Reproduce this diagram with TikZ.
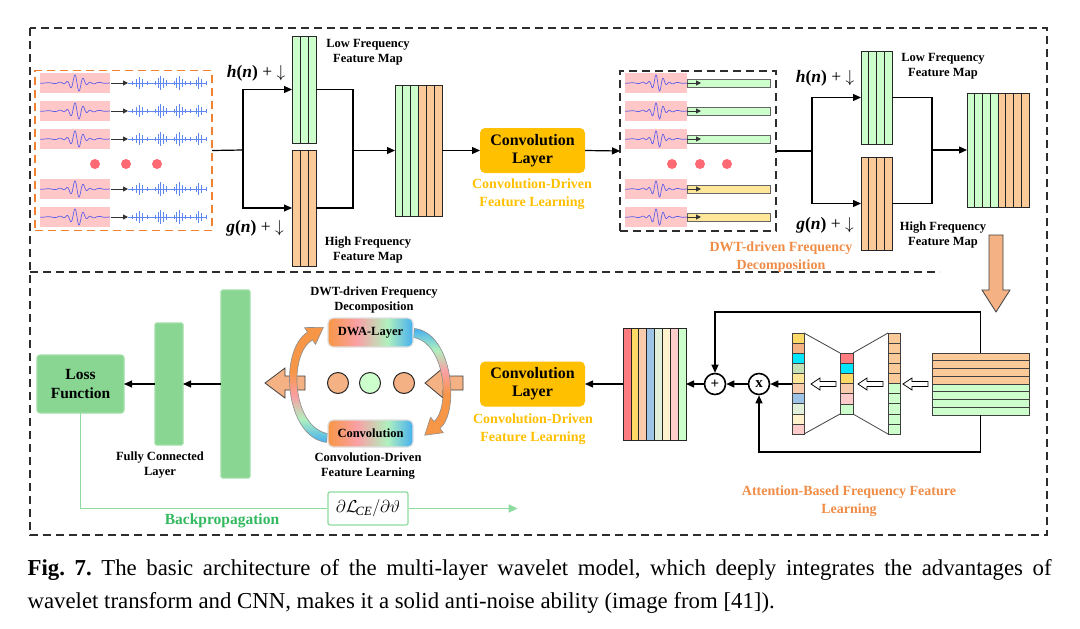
\documentclass[tikz,border=0pt]{standalone}
\usepackage{fontspec}
\setmainfont{Liberation Serif}
\usetikzlibrary{arrows.meta,calc,fit}
\definecolor{lgreen}{RGB}{204,255,204}
\definecolor{lorange}{RGB}{252,201,153}
\definecolor{pinkbg}{RGB}{255,199,199}
\definecolor{wavec}{RGB}{95,95,235}
\definecolor{noisec}{RGB}{95,135,240}
\definecolor{dotred}{RGB}{255,105,115}
\definecolor{convy}{RGB}{255,192,0}
\definecolor{lblorange}{RGB}{240,140,70}
\definecolor{midgreen}{RGB}{136,214,146}
\definecolor{bptext}{RGB}{50,185,95}
\definecolor{bpline}{RGB}{140,220,160}
\definecolor{arrorange}{RGB}{244,177,131}
\definecolor{framec}{RGB}{45,45,45}
\definecolor{boxorange}{RGB}{240,130,50}
\definecolor{ybar}{RGB}{255,230,153}
\definecolor{cyel}{RGB}{255,217,102}
\definecolor{corg}{RGB}{244,177,131}
\definecolor{ccyan}{RGB}{0,230,255}
\definecolor{csage}{RGB}{197,224,180}
\definecolor{cyel2}{RGB}{255,230,153}
\definecolor{cpeach}{RGB}{248,203,173}
\definecolor{cblue}{RGB}{157,195,230}
\definecolor{cpale}{RGB}{226,239,218}
\definecolor{clyel}{RGB}{255,242,204}
\definecolor{cpink}{RGB}{255,204,204}
\definecolor{cred}{RGB}{255,124,128}
\definecolor{so}{RGB}{247,150,70}
\definecolor{sp}{RGB}{250,160,165}
\definecolor{sg}{RGB}{175,240,190}
\definecolor{sb}{RGB}{70,175,240}
\pgfdeclarehorizontalshading{rainbowbox}{100bp}{color(0bp)=(so); color(25bp)=(so); color(42bp)=(sp); color(60bp)=(sg); color(75bp)=(sb); color(100bp)=(sb)}
\pgfdeclareverticalshading{bandup}{100bp}{color(0bp)=(sb); color(25bp)=(sb); color(35bp)=(sg); color(45bp)=(sp); color(56bp)=(so); color(100bp)=(so)}
\pgfdeclareverticalshading{banddown}{100bp}{color(0bp)=(so); color(44bp)=(so); color(55bp)=(sp); color(65bp)=(sg); color(75bp)=(sb); color(100bp)=(sb)}
% vertical striped map: name, x0, y0, x1, y1, n, colours
\newcommand\colmap[7]{%
  \foreach \cc [count=\i from 0] in {#7}
    \draw[fill=\cc, draw=black!85, line width=0.7pt] ({#2+(#4-#2)/#6*\i},#3) rectangle ({#2+(#4-#2)/#6*(\i+1)},#5);
  \node[inner sep=0pt, outer sep=0pt, fit={(#2,#3) (#4,#5)}] (#1) {};
}
% horizontal striped map: name, x0, y0, x1, y1, n, colours
\newcommand\rowmap[7]{%
  \foreach \cc [count=\i from 0] in {#7}
    \draw[fill=\cc, draw=black!75, line width=0.6pt] (#2,{#3+(#5-#3)/#6*\i}) rectangle (#4,{#3+(#5-#3)/#6*(\i+1)});
  \node[inner sep=0pt, outer sep=0pt, fit={(#2,#3) (#4,#5)}] (#1) {};
}
\begin{document}
\begin{tikzpicture}[x=1pt,y=-1pt,
  >={Triangle[length=8pt,width=7pt]},
  line width=1.2pt,
  framedash/.style={draw=framec, line width=1.3pt, dash pattern=on 8pt off 5pt},
  smalllbl/.style={font=\bfseries\fontsize{12.5}{15}\selectfont, align=center, inner sep=0pt},
  ylbl/.style={font=\bfseries\fontsize{14}{18}\selectfont, text=convy, align=center, inner sep=0pt},
  olbl/.style={font=\bfseries\fontsize{14}{18}\selectfont, text=lblorange, align=center, inner sep=0pt},
  convbox/.style={fill=convy, rounded corners=5pt, minimum width=105pt, minimum height=45pt, inner sep=0pt, outer sep=0pt, font=\bfseries\fontsize{16}{18}\selectfont, align=center},
  hlbl/.style={font=\fontsize{17.5}{19}\selectfont, inner sep=0pt},
  smallarr/.style={-{Triangle[length=5pt,width=5pt]}, draw=black!80, line width=1pt},
  reddot/.style={circle, fill=dotred, minimum size=10pt, inner sep=0pt},
  gbar/.style={fill=midgreen, draw=midgreen!80!white, rounded corners=1.5pt, inner sep=0pt, outer sep=0pt},
  ball/.style={circle, draw=black!85, line width=1pt, minimum size=21pt, inner sep=0pt},
  opcirc/.style={circle, draw=black, line width=1.6pt, fill=white, minimum size=21pt, inner sep=0pt, font=\bfseries\fontsize{15}{15}\selectfont},
  blockarr/.style={fill=arrorange, draw=black!75, line width=0.8pt, line join=miter},
  wavepic/.pic={
    \fill[pinkbg] (0,-10) rectangle (70,10);
    \draw[wavec, line width=0.7pt, domain=0:70, samples=140, smooth] plot (\x, {7.5*exp(-(\x-37)*(\x-37)/90)*sin(45*(\x-37)) + 1.1*exp(-(\x-37)*(\x-37)/700)*sin(28*(\x-37))});
  },
  noisepic/.pic={
    \draw[noisec, line width=0.8pt] (0,0) -- (79,0);
    \foreach \a/\h in {4/2,8/4,11/6,14/4,19/2,27/2,30/5,32/7,35/5,38/3,46/2,48/5,51/7,54/4,57/2,62/2,68/3,70/6,73/4,78/2}
      \draw[noisec, line width=1pt] (\a,-\h) -- (\a,\h);
  },
  harr/.pic={
    \draw[fill=white, draw=black, line width=0.8pt] (0,-2.5) -- (-16,-2.5) -- (-16,-6) -- (-25,0) -- (-16,6) -- (-16,2.5) -- (0,2.5) -- cycle;
  }
]
\useasboundingbox (0,0) rectangle (1080,629);
\fill[white] (0,0) rectangle (1080,629);

% ---------- frame ----------
\draw[framedash] (30,28) rectangle (1047,535);
\draw[framedash] (30,272) -- (940,272);

% ---------- top left: input signals ----------
\node[draw=boxorange, line width=1.3pt, dash pattern=on 8pt off 5pt, minimum width=177pt, minimum height=160pt, inner sep=0pt, outer sep=0pt] (sigbox) at (123.5,150.5) {};
\foreach \yy in {83,111,139,189,217}{
  \pic at (40,\yy) {wavepic};
  \draw[smallarr] (111,\yy) -- (128,\yy);
  \pic at (128,\yy) {noisepic};
}
\node[reddot] (d1) at (95,164) {};
\node[reddot] (d2) at (126,164) {};
\node[reddot] (d3) at (157,164) {};

% ---------- first DWT ----------
\colmap{low1}{292}{36}{316}{143}{3}{lgreen,lgreen,lgreen}
\colmap{high1}{292}{150}{316}{266}{3}{lorange,lorange,lorange}
\colmap{cat1}{395}{85}{442}{216}{6}{lgreen,lgreen,lgreen,lorange,lorange,lorange}
\coordinate (sp1) at (243,150);
\coordinate (mg1) at (353,150.5);
\draw (sigbox.east) -- (sp1);
\draw[->] (sp1) |- (low1.west);
\draw[->] (sp1) |- (high1.west);
\draw (low1.east) -| (mg1);
\draw (high1.east) -| (mg1);
\draw[->] (mg1) -- (cat1.west);
\node[hlbl] (hl1) at (256,73) {\textbf{\textit{h}(\textit{n})} + $\downarrow$};
\node[hlbl] (gl1) at (255,228) {\textbf{\textit{g}(\textit{n})} + $\downarrow$};
\node[smalllbl] (lowl1) at (368,52) {Low Frequency\\Feature Map};
\node[smalllbl] (highl1) at (368,250) {High Frequency\\Feature Map};

% ---------- conv layer 1 ----------
\node[convbox] (conv1) at (532.5,150.5) {Convolution\\Layer};
\node[ylbl] (cl1) at (532,194) {Convolution-Driven\\Feature Learning};
\draw[->] (cat1.east) -- (conv1.west);

% ---------- right signal box ----------
\node[draw=framec, line width=1.3pt, dash pattern=on 8pt off 5pt, minimum width=156pt, minimum height=160pt, inner sep=0pt, outer sep=0pt] (rbx) at (698,151) {};
\draw[->] (conv1.east) -- (rbx.west);
\foreach \yy/\bc in {83/lgreen,111/lgreen,139/lgreen,189/ybar,217/ybar}{
  \pic[xscale=0.886] at (625,\yy) {wavepic};
  \draw[fill=\bc, draw=black!60, line width=0.6pt] (687,\yy-4) rectangle (770,\yy+4);
  \draw[smallarr] (687,\yy) -- (701,\yy);
}
\node[reddot] (d4) at (672,164) {};
\node[reddot] (d5) at (700,164) {};
\node[reddot] (d6) at (727,164) {};
\node[olbl] (dwtl) at (781,257) {DWT-driven Frequency\\Decomposition};

% ---------- second DWT ----------
\colmap{low2}{861}{51}{892}{144}{4}{lgreen,lgreen,lgreen,lgreen}
\colmap{high2}{861}{157}{892}{250}{4}{lorange,lorange,lorange,lorange}
\colmap{cat2}{967}{93}{1029}{207}{8}{lgreen,lgreen,lgreen,lgreen,lorange,lorange,lorange,lorange}
\coordinate (sp2) at (812,151);
\coordinate (mg2) at (932,150);
\draw (rbx.east) -- (sp2);
\draw[->] (sp2) |- (low2.west);
\draw[->] (sp2) |- (high2.west);
\draw (low2.east) -| (mg2);
\draw (high2.east) -| (mg2);
\draw[->] (mg2) -- (cat2.west);
\node[hlbl] (hl2) at (825,78) {\textbf{\textit{h}(\textit{n})} + $\downarrow$};
\node[hlbl] (gl2) at (825,225) {\textbf{\textit{g}(\textit{n})} + $\downarrow$};
\node[smalllbl] (lowl2) at (943,66) {Low Frequency\\Feature Map};
\node[smalllbl] (highl2) at (943,235) {High Frequency\\Feature Map};

% big down arrow
\draw[blockarr] (989,235) -- (1003,235) -- (1003,290) -- (1010,290) -- (996,312) -- (982,290) -- (989,290) -- cycle;

% ---------- attention block ----------
\rowmap{attblk}{932}{353}{1029}{415}{8}{lorange,lorange,lorange,lorange,lgreen,lgreen,lgreen,lgreen}
\rowmap{rcol}{888}{333}{900}{434}{10}{lorange,lorange,lorange,lorange,lorange,lgreen,lgreen,lgreen,lgreen,lgreen}
\rowmap{mcol}{840}{353}{853}{414}{6}{cred,ccyan,cyel,cpeach,cpink,lgreen}
\rowmap{lcol}{792}{333}{804}{434}{10}{cyel,corg,ccyan,csage,cyel2,cpeach,cblue,cpale,clyel,cpink}
\draw[black!75, line width=0.8pt] (lcol.north east) -- (mcol.north west);
\draw[black!75, line width=0.8pt] (lcol.south east) -- (mcol.south west);
\draw[black!75, line width=0.8pt] (mcol.north east) -- (rcol.north west);
\draw[black!75, line width=0.8pt] (mcol.south east) -- (rcol.south west);
\pic at (928,384) {harr};
\pic at (883,384) {harr};
\pic at (836,384) {harr};
\node[opcirc] (times) at (759,384) {x};
\node[opcirc] (plus) at (715,384) {+};
\draw[->] (attblk.north) -- ++(0,-41) -| (plus.north);
\draw[->] (attblk.south) -- ++(0,37) -| (times.south);
\draw[->] (lcol.west |- times) -- (times.east);
\draw[->] (times.west) -- (plus.east);
\node[olbl] (attl) at (849,501) {Attention-Based Frequency Feature\\Learning};

% ---------- bottom middle ----------
\colmap{cstack}{623}{328}{686}{440}{8}{cred,cyel,cpeach,cblue,cpale,clyel,cpink,lgreen}
\draw[->] (plus.west) -- (cstack.east |- plus);
\node[convbox] (conv2) at (532.5,384) {Convolution\\Layer};
\node[ylbl] (cl2) at (533,429) {Convolution-Driven\\Feature Learning};
\draw[->] (cstack.west |- conv2) -- (conv2.east);

% block arrows
\draw[blockarr] (425,383) -- (443,368) -- (443,376) -- (463,376) -- (463,390) -- (443,390) -- (443,398) -- cycle;
\draw[blockarr] (265,383) -- (285,368) -- (285,376) -- (305,376) -- (305,390) -- (285,390) -- (285,398) -- cycle;
\node[ball, fill=arrorange] (b1) at (338,383) {};
\node[ball, fill=lgreen] (b2) at (370,383) {};
\node[ball, fill=arrorange] (b3) at (404,383) {};

% curved gradient arrows
\shadedraw[shading=bandup, draw=black!45, line width=0.6pt, line join=round] (326.3,442.4) .. controls (285,437) and (278,351) .. (307.5,332.2) -- (304.5,327.6) -- (323.4,327.3) -- (315.5,344.4) -- (312.5,339.8) .. controls (288,354) and (292,427) .. (327.7,433.6) -- cycle;
\shadedraw[shading=banddown, draw=black!45, line width=0.6pt, line join=round] (414.6,328.5) .. controls (453,333) and (460,412) .. (439.9,428.5) -- (443.4,432.7) -- (424.7,435.2) -- (430.6,417.3) -- (434.1,421.5) .. controls (450,408) and (446,343) .. (413.4,337.5) -- cycle;

\node[shading=rainbowbox, draw=black!12, rounded corners=5pt, minimum width=85pt, minimum height=29pt, inner sep=0pt, font=\bfseries\fontsize{12.5}{14}\selectfont] (dwa) at (370.5,332.5) {DWA-Layer};
\node[shading=rainbowbox, draw=black!12, rounded corners=5pt, minimum width=85pt, minimum height=27pt, inner sep=0pt, font=\bfseries\fontsize{12.5}{14}\selectfont] (cvs) at (370.5,433.5) {Convolution};
\node[smalllbl] (dwtl2) at (374,300) {DWT-driven Frequency\\Decomposition};
\node[smalllbl] (cdl2) at (368,466) {Convolution-Driven\\Feature Learning};

% ---------- bottom left ----------
\node[gbar, minimum width=29pt, minimum height=188pt] (tbar) at (235.5,384) {};
\node[gbar, minimum width=28pt, minimum height=122pt] (fc) at (169,384) {};
\node[gbar, rounded corners=3pt, minimum width=87pt, minimum height=58pt, font=\bfseries\fontsize{15.5}{19}\selectfont, align=center] (loss) at (80.5,384) {Loss\\Function};
\draw[->] (tbar.west) -- (fc.east);
\draw[->] (fc.west) -- (loss.east);
\node[smalllbl] (fcl) at (160,465) {Fully Connected\\Layer};

% backpropagation
\node[draw=bpline, line width=1.2pt, rounded corners=2pt, fill=white, minimum width=80pt, minimum height=33pt, inner sep=0pt, font=\fontsize{18}{18}\selectfont] (grad) at (368,508.5) {$\partial\mathcal{L}_{\!\mathit{CE}}/\partial\vartheta$};
\draw[bpline, line width=1.4pt] (loss.south) |- (grad.west);
\draw[bpline, line width=1.4pt, -{Triangle[length=9pt,width=8pt]}] (grad.east) -- ++(109,0);
\node[font=\bfseries\fontsize{15.5}{18}\selectfont, text=bptext, inner sep=0pt] (bpl) at (222,521) {Backpropagation};

% ---------- caption ----------
\node[anchor=base west, inner sep=0pt, font=\fontsize{22.8}{33}\selectfont] (cap1) at (27,575) {\frenchspacing\makebox[1024pt][s]{\textbf{Fig. 7.} The basic architecture of the multi-layer wavelet model, which deeply integrates the advantages of}};
\node[anchor=base west, inner sep=0pt, font=\fontsize{22.8}{33}\selectfont] (cap2) at (27,608) {wavelet transform and CNN, makes it a solid anti-noise ability (image from [41]).};
\end{tikzpicture}
\end{document}
